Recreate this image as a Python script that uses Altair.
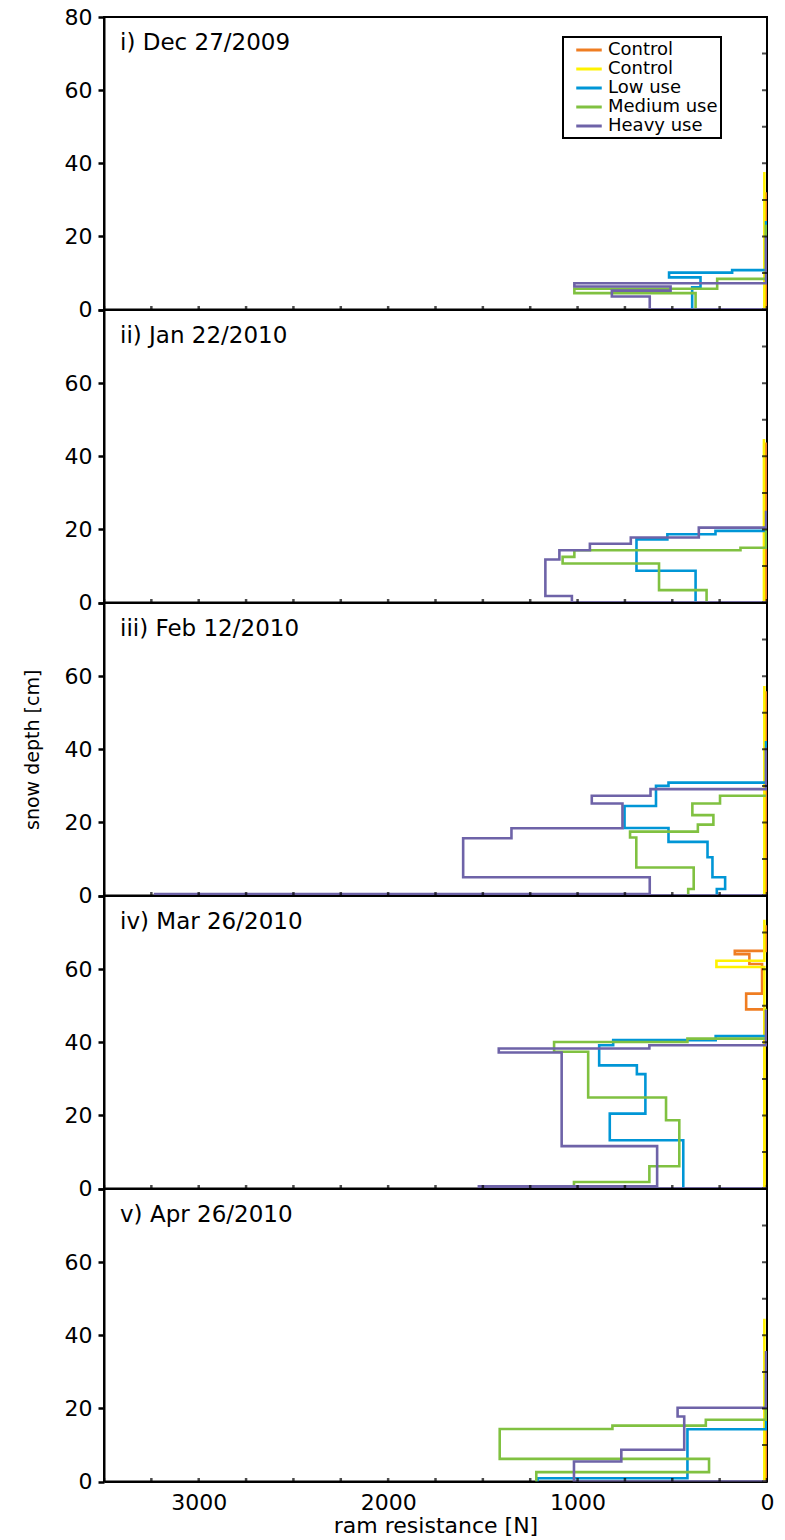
import altair as alt
import pandas as pd

FONT = "DejaVu Sans"

# Series keys (two control plots share the "Control" label) and their colours
SERIES = ["Control A", "Control B", "Low use", "Medium use", "Heavy use"]
COLORS = ["#EF7D22", "#FFF200", "#0096D6", "#80C141", "#6E63A8"]

PANEL_TITLES = [
    "i) Dec 27/2009",
    "ii) Jan 22/2010",
    "iii) Feb 12/2010",
    "iv) Mar 26/2010",
    "v) Apr 26/2010",
]

X_TICKS = list(range(0, 3501, 250))   # ram resistance [N]
Y_TICKS = list(range(0, 81, 10))      # snow depth [cm]

# Ram profiles: (resistance N, depth cm) vertices from the surface down
# i) Dec 27/2009
P1_CONTROL_A = [(5, 32.1), (5, 0)]
P1_CONTROL_B = [(14, 37.6), (14, 0)]
P1_LOW = [(5, 24.2), (5, 10.8), (184, 10.8), (184, 10.1), (517, 10.1), (517, 8.8),
          (351, 8.8), (351, 6.1), (395, 6.1), (395, 0)]
P1_MEDIUM = [(5, 23.2), (5, 8.4), (263, 8.4), (263, 5.7), (1017, 5.7), (1017, 4.5),
             (377, 4.5), (377, 0)]
P1_HEAVY = [(5, 20.0), (5, 7.2), (1017, 7.2), (1017, 6.3), (509, 6.3), (509, 5.2),
            (819, 5.2), (819, 3.6), (619, 3.6), (619, 0), (0, 0)]

# ii) Jan 22/2010
P2_CONTROL_A = [(5, 43.8), (5, 0)]
P2_CONTROL_B = [(16, 44.7), (16, 0)]
P2_LOW = [(5, 20.0), (5, 19.6), (272, 19.6), (272, 18.7), (526, 18.7), (526, 17.3),
          (689, 17.3), (689, 8.7), (377, 8.7), (377, 0)]
P2_MEDIUM = [(5, 20.0), (5, 15.0), (140, 15.0), (140, 14.3), (1017, 14.3), (1017, 12.5),
             (1079, 12.5), (1079, 10.7), (570, 10.7), (570, 3.4), (319, 3.4), (319, 0)]
P2_HEAVY = [(5, 25.1), (5, 20.5), (360, 20.5), (360, 17.8), (719, 17.8), (719, 16.1),
            (935, 16.1), (935, 14.3), (1096, 14.3), (1096, 11.8), (1170, 11.8),
            (1170, 1.8), (1030, 1.8), (1030, 0), (0, 0)]

# iii) Feb 12/2010
P3_CONTROL_A = [(5, 55.9), (5, 0)]
P3_CONTROL_B = [(14, 57.3), (14, 0)]
P3_LOW = [(5, 42.3), (5, 30.9), (520, 30.9), (520, 30.0), (586, 30.0), (586, 24.5),
          (752, 24.5), (752, 18.5), (520, 18.5), (520, 14.7), (314, 14.7), (314, 10.5),
          (288, 10.5), (288, 5.0), (221, 5.0), (221, 1.8), (265, 1.8), (265, 0)]
P3_MEDIUM = [(5, 27.3), (248, 27.3), (248, 25.2), (394, 25.2), (394, 22.0), (283, 22.0),
             (283, 19.4), (365, 19.4), (365, 17.5), (723, 17.5), (723, 15.9), (690, 15.9),
             (690, 7.7), (387, 7.7), (387, 1.8), (416, 1.8), (416, 0)]
P3_HEAVY = [(5, 40.5), (5, 29.1), (615, 29.1), (615, 27.3), (925, 27.3), (925, 25.2),
            (763, 25.2), (763, 18.4), (1349, 18.4), (1349, 15.7), (1604, 15.7),
            (1604, 5.0), (619, 5.0), (619, 0.4), (3230, 0.4), (3230, 0), (0, 0)]

# iv) Mar 26/2010
P4_CONTROL_A = [(5, 72.0), (5, 65.0), (170, 65.0), (170, 64.1), (93, 64.1), (93, 61.4),
                (26, 61.4), (26, 53.3), (110, 53.3), (110, 49.0), (14, 49.0), (14, 0)]
P4_CONTROL_B = [(14, 73.5), (14, 62.3), (267, 62.3), (267, 60.6), (14, 60.6), (14, 0)]
P4_LOW = [(5, 41.7), (271, 41.7), (271, 40.6), (812, 40.6), (812, 39.2), (886, 39.2),
          (886, 33.7), (687, 33.7), (687, 31.3), (642, 31.3), (642, 20.5), (830, 20.5),
          (830, 13.2), (442, 13.2), (442, 0)]
P4_MEDIUM = [(5, 49.2), (5, 41.0), (420, 41.0), (420, 40.1), (1124, 40.1), (1124, 37.4),
             (944, 37.4), (944, 24.9), (533, 24.9), (533, 18.7), (463, 18.7), (463, 6.1),
             (621, 6.1), (621, 1.8), (1019, 1.8), (1019, 0)]
P4_HEAVY = [(5, 48.8), (5, 39.2), (621, 39.2), (621, 38.3), (1416, 38.3), (1416, 37.2),
            (1084, 37.2), (1084, 11.6), (580, 11.6), (580, 0.6), (1521, 0.6), (1521, 0),
            (0, 0)]

# v) Apr 26/2010
P5_CONTROL_A = [(5, 32.8), (5, 0)]
P5_CONTROL_B = [(14, 44.5), (14, 0)]
P5_LOW = [(5, 27.8), (5, 14.3), (420, 14.3), (420, 0.9), (1211, 0.9), (1211, 0)]
P5_MEDIUM = [(5, 29.4), (5, 16.9), (323, 16.9), (323, 15.3), (816, 15.3), (816, 14.4),
             (1411, 14.4), (1411, 6.2), (306, 6.2), (306, 2.6), (1218, 2.6), (1218, 0)]
P5_HEAVY = [(5, 35.7), (5, 20.2), (472, 20.2), (472, 17.8), (437, 17.8), (437, 8.7),
            (769, 8.7), (769, 5.5), (1019, 5.5), (1019, 0), (0, 0)]

PANEL_DATA = [
    [P1_CONTROL_A, P1_CONTROL_B, P1_LOW, P1_MEDIUM, P1_HEAVY],
    [P2_CONTROL_A, P2_CONTROL_B, P2_LOW, P2_MEDIUM, P2_HEAVY],
    [P3_CONTROL_A, P3_CONTROL_B, P3_LOW, P3_MEDIUM, P3_HEAVY],
    [P4_CONTROL_A, P4_CONTROL_B, P4_LOW, P4_MEDIUM, P4_HEAVY],
    [P5_CONTROL_A, P5_CONTROL_B, P5_LOW, P5_MEDIUM, P5_HEAVY],
]

W, H = 663, 292.6


def make_panel(k):
    rows = []
    for name, pts in zip(SERIES, PANEL_DATA[k]):
        for i, (n, cm) in enumerate(pts):
            rows.append({"series": name, "i": i, "N": n, "cm": cm})
    df = pd.DataFrame(rows)
    last = k == len(PANEL_DATA) - 1

    x_axis = alt.Axis(
        values=X_TICKS,
        labels=last,
        labelExpr="datum.value % 1000 == 0 ? datum.label : ''",
        format="d",
        ticks=False,
        labelFlush=False,
        labelPadding=11,
        titlePadding=2,
        title="ram resistance [N]" if last else None,
    )
    y_expr = ("datum.value % 20 == 0 ? datum.label : ''" if k == 0
              else "datum.value % 20 == 0 && datum.value < 80 ? datum.label : ''")
    y_axis = alt.Axis(
        values=Y_TICKS,
        labelExpr=y_expr,
        tickSize=6,
        tickWidth=2.5,
        labelPadding=6,
        titlePadding=22,
        titleFontSize=19,
        title="snow depth [cm]" if k == 2 else None,
    )
    if k == 0:
        legend = alt.Legend(
            orient="none", legendX=459, legendY=20, title=None,
            labelExpr="indexof(datum.label, 'Control') == 0 ? 'Control' : datum.label",
            symbolType="M-1.5,0H1.5", symbolSize=289, symbolStrokeWidth=3,
            labelFontSize=18, labelFont=FONT, labelColor="black",
            strokeColor="black", fillColor="white", padding=3, rowPadding=0,
            symbolOffset=13, labelOffset=9,
        )
    else:
        legend = None

    xs = alt.Scale(domain=[0, 3500], reverse=True, nice=False, zero=False)
    ys = alt.Scale(domain=[0, 80], nice=False)

    lines = alt.Chart(df).mark_line(strokeWidth=2.6, clip=True).encode(
        x=alt.X("N:Q", scale=xs, axis=x_axis),
        y=alt.Y("cm:Q", scale=ys, axis=y_axis),
        color=alt.Color("series:N", scale=alt.Scale(domain=SERIES, range=COLORS), legend=legend),
        detail="series:N",
        order="i:Q",
    )
    # small inward tick marks along the bottom and right frame
    xticks = alt.Chart(pd.DataFrame({"N": X_TICKS})).mark_tick(
        orient="vertical", size=7, thickness=2.5, color="black", clip=True
    ).encode(x=alt.X("N:Q", scale=xs, axis=x_axis), y=alt.datum(0))
    yticks = alt.Chart(pd.DataFrame({"cm": Y_TICKS})).mark_tick(
        orient="horizontal", size=10, thickness=2, color="black", clip=True
    ).encode(y=alt.Y("cm:Q", scale=ys, axis=y_axis), x=alt.datum(0))
    label = alt.Chart(pd.DataFrame({"t": [PANEL_TITLES[k]]})).mark_text(
        align="left", baseline="middle", font=FONT, fontSize=23, color="black"
    ).encode(x=alt.value(16), y=alt.value(26), text="t:N")

    return alt.layer(lines, xticks, yticks, label).properties(width=W, height=H)


panels = [make_panel(k) for k in range(len(PANEL_DATA))]

chart = (
    alt.vconcat(*panels, spacing=0, bounds="flush")
    .resolve_scale(color="independent")
    .properties(padding={"left": 22, "top": 5, "right": 10, "bottom": 2})
    .configure_view(stroke="black", strokeWidth=2)
    .configure_axis(
        labelFont=FONT, labelFontSize=22, labelColor="black",
        titleFont=FONT, titleFontSize=22, titleColor="black", titleFontWeight="normal",
        domainColor="black", domainWidth=2, tickColor="black", grid=False,
    )
    .configure_legend(strokeWidth=2)
)

chart.save("out.html", embed_options={"renderer": "svg", "actions": False})
